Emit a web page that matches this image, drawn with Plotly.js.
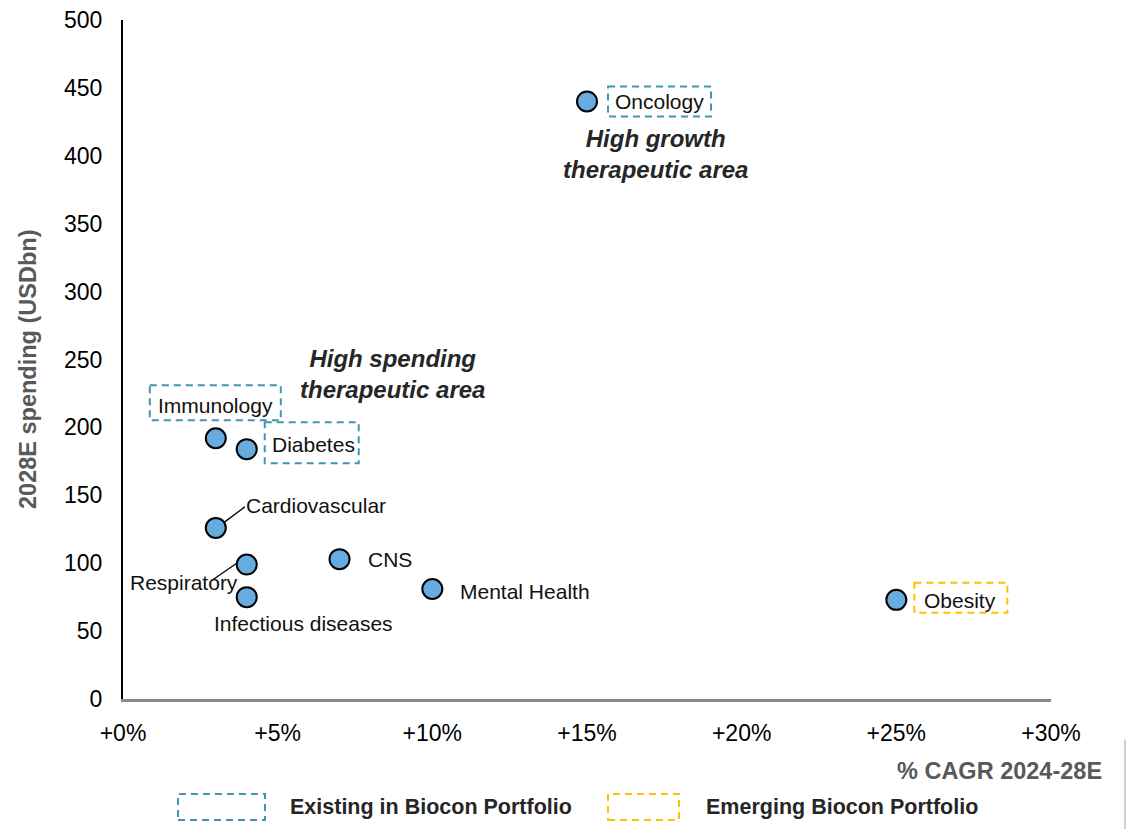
<!DOCTYPE html>
<html>
<head>
<meta charset="utf-8">
<script src="https://cdn.plot.ly/plotly-3.0.1.min.js"></script>
<style>
  html, body { margin: 0; padding: 0; background: #ffffff; }
  #chart { width: 1127px; height: 829px; }
</style>
</head>
<body>
<div id="chart"></div>
<script>
// ---- Data ----
const categories = ['Oncology', 'Immunology', 'Diabetes', 'Cardiovascular', 'Respiratory',
                    'Infectious diseases', 'CNS', 'Mental Health', 'Obesity'];
const cagrPct = [15, 3, 4, 3, 4, 4, 7, 10, 25];
const spending2028 = [440, 192, 184, 126, 99, 75, 103, 81, 73];
const portfolio = ['existing', 'existing', 'existing', 'none', 'none', 'none', 'none', 'none', 'emerging'];
const xTickVals = [0, 5, 10, 15, 20, 25, 30];
const xTickText = ['+0%', '+5%', '+10%', '+15%', '+20%', '+25%', '+30%'];
const yTickVals = [0, 50, 100, 150, 200, 250, 300, 350, 400, 450, 500];
const legendLabels = ['Existing in Biocon Portfolio', 'Emerging Biocon Portfolio'];
const areaNotes = ['<b><i>High growth<br>therapeutic area</i></b>', '<b><i>High spending<br>therapeutic area</i></b>'];

// ---- Styles / label placement (pixel offsets from each point) ----
const FONT = 'Liberation Sans, Arial, Helvetica, sans-serif';
const TEAL = '#3f96ad';
const GOLD = '#ffc000';
const boxColor = { existing: TEAL, emerging: GOLD };
const labelLayout = {
  'Oncology':            { xanchor: 'left',   dx: 26,  dy: 0,   box: [21, 124, 15, -15] },
  'Immunology':          { xanchor: 'center', dx: 0,   dy: 33,  box: [-66, 65, 53, 18] },
  'Diabetes':            { xanchor: 'left',   dx: 23,  dy: 5,   box: [18, 112, 27, -14] },
  'Cardiovascular':      { xanchor: 'left',   dx: 28,  dy: 22,  line: [9, 6, 29, 21] },
  'Respiratory':         { xanchor: 'right',  dx: -7,  dy: -18, line: [-35, -16, -9, 2] },
  'Infectious diseases': { xanchor: 'left',   dx: -35, dy: -26 },
  'CNS':                 { xanchor: 'left',   dx: 26,  dy: 0 },
  'Mental Health':       { xanchor: 'left',   dx: 26,  dy: -2 },
  'Obesity':             { xanchor: 'left',   dx: 26,  dy: -1,  box: [18, 111, 17, -13] }
};

const trace = {
  type: 'scatter',
  mode: 'markers',
  x: cagrPct,
  y: spending2028,
  text: categories,
  hoverinfo: 'text',
  marker: { size: 20, color: '#68abde', line: { color: '#000000', width: 2 } },
  cliponaxis: false,
  showlegend: false
};

const annotations = [];
const shapes = [];

categories.forEach((c, i) => {
  const L = labelLayout[c];
  annotations.push({
    x: cagrPct[i], y: spending2028[i], xref: 'x', yref: 'y',
    text: c, showarrow: false,
    xanchor: L.xanchor, yanchor: 'middle',
    xshift: L.dx, yshift: L.dy,
    font: { family: FONT, size: 21, color: '#111111' }
  });
  if (L.box && boxColor[portfolio[i]]) {
    shapes.push({
      type: 'rect', xref: 'x', yref: 'y',
      xsizemode: 'pixel', ysizemode: 'pixel',
      xanchor: cagrPct[i], yanchor: spending2028[i],
      x0: L.box[0], x1: L.box[1], y0: L.box[2], y1: L.box[3],
      line: { color: boxColor[portfolio[i]], width: 2, dash: '7px,5px' },
      fillcolor: 'rgba(0,0,0,0)'
    });
  }
  if (L.line) {
    shapes.push({
      type: 'line', xref: 'x', yref: 'y',
      xsizemode: 'pixel', ysizemode: 'pixel',
      xanchor: cagrPct[i], yanchor: spending2028[i],
      x0: L.line[0], y0: L.line[1], x1: L.line[2], y1: L.line[3],
      line: { color: '#000000', width: 1.3 }
    });
  }
});

// Area notes
annotations.push({
  x: 17.2, y: 401, xref: 'x', yref: 'y', text: areaNotes[0], showarrow: false,
  xanchor: 'center', yanchor: 'middle', align: 'center',
  font: { family: FONT, size: 24, color: '#262626' }
});
annotations.push({
  x: 8.71, y: 239, xref: 'x', yref: 'y', text: areaNotes[1], showarrow: false,
  xanchor: 'center', yanchor: 'middle', align: 'center',
  font: { family: FONT, size: 24, color: '#262626' }
});

// Axis titles as annotations
annotations.push({
  x: 1.0571, y: -0.106, xref: 'paper', yref: 'paper', text: '<b>% CAGR 2024-28E</b>',
  showarrow: false, xanchor: 'right', yanchor: 'middle',
  font: { family: FONT, size: 23.5, color: '#595959' }
});
annotations.push({
  x: -0.1024, y: 0.486, xref: 'paper', yref: 'paper', text: '<b>2028E spending (USDbn)</b>',
  showarrow: false, xanchor: 'center', yanchor: 'middle', textangle: -90,
  font: { family: FONT, size: 23.5, color: '#595959' }
});

// Custom legend
const legendItems = [
  { box: [0.0593, 0.1530], tx: 0.178, color: TEAL },
  { box: [0.5226, 0.5991], tx: 0.626, color: GOLD }
];
legendItems.forEach((it, k) => {
  shapes.push({
    type: 'rect', xref: 'paper', yref: 'paper',
    x0: it.box[0], x1: it.box[1], y0: -0.1782, y1: -0.1399,
    line: { color: it.color, width: 2, dash: '7px,5px' },
    fillcolor: 'rgba(0,0,0,0)'
  });
  annotations.push({
    x: it.tx, y: -0.159, xref: 'paper', yref: 'paper', text: '<b>' + legendLabels[k] + '</b>',
    showarrow: false, xanchor: 'left', yanchor: 'middle',
    font: { family: FONT, size: 21.5, color: '#262626' }
  });
});

// faint edge line at bottom right
shapes.push({
  type: 'line', xref: 'paper', yref: 'paper',
  x0: 1.0797, x1: 1.0797, y0: -0.06, y1: -0.2,
  line: { color: '#c9d3dc', width: 2 }
});

const layout = {
  width: 1127, height: 829,
  margin: { l: 123, r: 76, t: 20, b: 130 },
  paper_bgcolor: '#ffffff', plot_bgcolor: '#ffffff',
  font: { family: FONT, color: '#000000' },
  showlegend: false,
  xaxis: {
    range: [0, 30], tickvals: xTickVals, ticktext: xTickText,
    showgrid: false, zeroline: false,
    showline: true, linecolor: '#8a8a8a', linewidth: 3,
    ticks: 'outside', ticklen: 11, tickcolor: 'rgba(0,0,0,0)',
    tickfont: { family: FONT, size: 23, color: '#000000' },
    fixedrange: true
  },
  yaxis: {
    range: [0, 500], tickvals: yTickVals,
    showgrid: false, zeroline: false,
    showline: true, linecolor: '#000000', linewidth: 2,
    ticks: 'outside', ticklen: 14, tickcolor: 'rgba(0,0,0,0)',
    tickfont: { family: FONT, size: 23, color: '#000000' },
    fixedrange: true
  },
  annotations: annotations,
  shapes: shapes
};

Plotly.newPlot('chart', [trace], layout, { displayModeBar: false, staticPlot: true });
</script>
</body>
</html>
